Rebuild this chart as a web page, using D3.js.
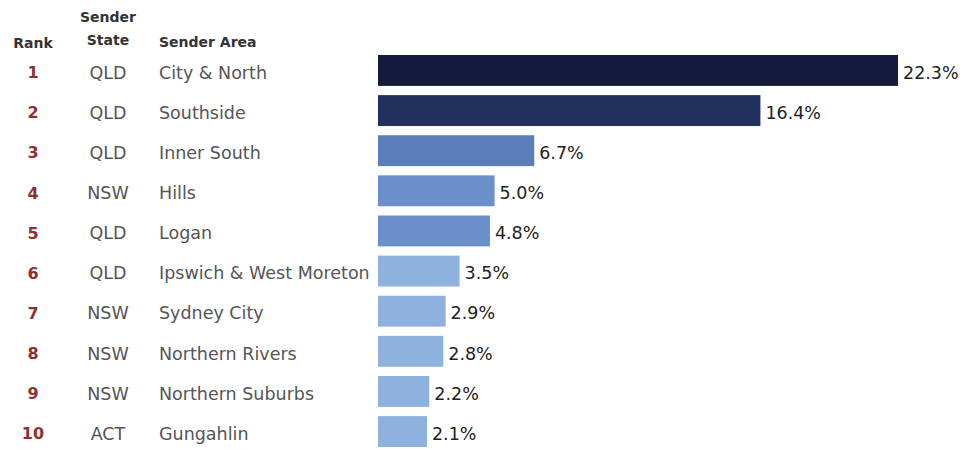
<!DOCTYPE html>
<meta charset="utf-8">
<style>
body { margin: 0; background: #fff; }
text { font-family: "DejaVu Sans", sans-serif; }
.hdr { font-weight: bold; fill: #333; font-size: 14px; }
.cell { fill: #555; font-size: 17.5px; }
.rank { fill: #8e2f33; font-weight: bold; font-size: 16px; }
.val { fill: #222; font-size: 17.5px; }
</style>
<svg width="965" height="449"></svg>
<script src="https://d3js.org/d3.v7.min.js"></script>
<script>

var ranks = [1, 2, 3, 4, 5, 6, 7, 8, 9, 10],
    states = ["QLD", "QLD", "QLD", "NSW", "QLD", "QLD", "NSW", "NSW", "NSW", "ACT"],
    areas = ["City & North", "Southside", "Inner South", "Hills", "Logan",
             "Ipswich & West Moreton", "Sydney City", "Northern Rivers", "Northern Suburbs", "Gungahlin"],
    values = [22.3, 16.4, 6.7, 5.0, 4.8, 3.5, 2.9, 2.8, 2.2, 2.1];

var svg = d3.select("svg");

var rows = ranks.map(function(r, i) {
  return {rank: r, state: states[i], area: areas[i], value: values[i]};
});

var x = d3.scaleLinear().domain([0, 22.3]).range([378, 898]);
var y = d3.scaleBand().domain(ranks).range([55, 447]).paddingInner(0.23).paddingOuter(0);

var color = d3.scaleThreshold()
    .domain([4, 6, 10, 20])
    .range(["#8fb1de", "#6a8fcb", "#5b7dba", "#22305e", "#131a3a"]);

// headers
svg.append("text").attr("class", "hdr").attr("x", 33).attr("y", 48).attr("text-anchor", "middle").text("Rank");
svg.append("text").attr("class", "hdr").attr("x", 108).attr("y", 22).attr("text-anchor", "middle").text("Sender");
svg.append("text").attr("class", "hdr").attr("x", 108).attr("y", 45).attr("text-anchor", "middle").text("State");
svg.append("text").attr("class", "hdr").attr("x", 159).attr("y", 47).text("Sender Area");

var g = svg.selectAll(".row").data(rows).enter().append("g").attr("class", "row");

g.append("rect")
    .attr("x", x(0))
    .attr("y", function(d) { return y(d.rank); })
    .attr("width", function(d) { return x(d.value) - x(0); })
    .attr("height", y.bandwidth())
    .attr("fill", function(d) { return color(d.value); });

function mid(d) { return y(d.rank) + y.bandwidth() / 2 + 2; }

g.append("text").attr("class", "rank")
    .attr("x", 33).attr("y", mid).attr("dy", "0.36em").attr("text-anchor", "middle")
    .text(function(d) { return d.rank; });

g.append("text").attr("class", "cell")
    .attr("x", 108).attr("y", mid).attr("dy", "0.36em").attr("text-anchor", "middle")
    .text(function(d) { return d.state; });

g.append("text").attr("class", "cell")
    .attr("x", 159).attr("y", mid).attr("dy", "0.36em")
    .text(function(d) { return d.area; });

g.append("text").attr("class", "val")
    .attr("x", function(d) { return x(d.value) + 5; }).attr("y", mid).attr("dy", "0.36em")
    .text(function(d) { return d.value.toFixed(1) + "%"; });

</script>
